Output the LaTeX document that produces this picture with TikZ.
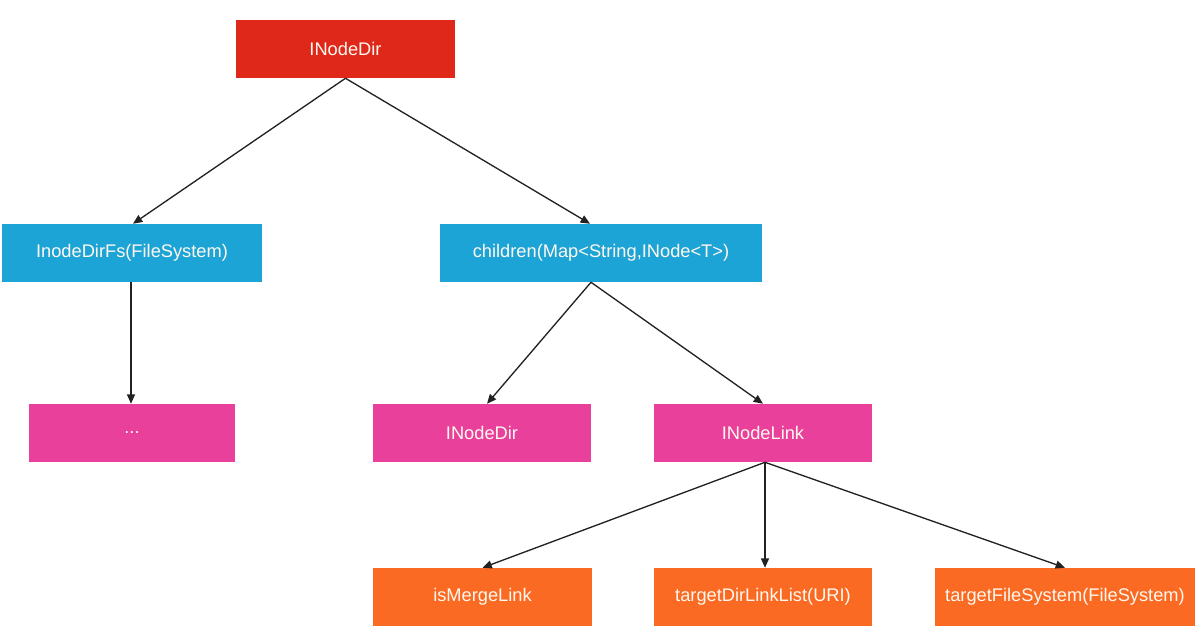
\documentclass[tikz,border=0pt]{standalone}
\usepackage{fontspec}
\setmainfont{Liberation Sans}
\usetikzlibrary{arrows.meta,calc}
\definecolor{cred}{HTML}{E0281A}
\definecolor{cblue}{HTML}{1DA4D6}
\definecolor{cpink}{HTML}{E9419B}
\definecolor{corange}{HTML}{FB6A22}
\definecolor{cline}{HTML}{222222}
\definecolor{ctext}{HTML}{FFF8F0}
\begin{document}
\begin{tikzpicture}[x=0.75pt,y=-0.75pt,
  box/.style={draw=none,minimum height=43.5pt,inner sep=0pt,text=ctext,font=\fontsize{13.7}{16}\selectfont},
  redbox/.style={box,fill=cred,minimum width=164.25pt},
  bluebox/.style={box,fill=cblue},
  pinkbox/.style={box,fill=cpink,minimum width=163.5pt},
  orangebox/.style={box,fill=corange,minimum width=164pt},
  conn/.style={draw=cline,line width=1pt,-{Triangle[length=7pt,width=6pt]}}]
\useasboundingbox (0,0) rectangle (1202,636);
\node[redbox] (top) at (345.5,49) {INodeDir};
\node[bluebox,minimum width=195pt] (fs) at (132,253) {InodeDirFs(FileSystem)};
\node[bluebox,minimum width=241.5pt] (ch) at (601,253) {children(Map<String,INode<T>)};
\node[pinkbox,minimum width=154.5pt] (dots) at (132,433) {...};
\node[pinkbox] (dir) at (482,433) {INodeDir};
\node[pinkbox] (link) at (763,433) {INodeLink};
\node[orangebox] (merge) at (482.5,597) {isMergeLink};
\node[orangebox] (tdl) at (763,597) {targetDirLinkList(URI)};
\node[orangebox,minimum width=195pt] (tfs) at (1065,597) {targetFileSystem(FileSystem)};
\coordinate (chs) at ($(ch.south)+(-10,0)$);
\coordinate (chn) at ($(ch.north)+(-11,0)$);
\coordinate (fsn) at ($(fs.north)+(1,0)$);
\coordinate (dirn) at ($(dir.north)+(5,0)$);
\coordinate (links) at ($(link.south)+(2,0)$);
\coordinate (tdln) at ($(tdl.north)+(2,0)$);
\coordinate (fss) at ($(fs.south)+(-1,0)$);
\coordinate (dotsn) at ($(dots.north)+(-1,0)$);
\draw[conn] (top.south) -- (fsn);
\draw[conn] (top.south) -- (chn);
\draw[conn] (fss) -- (dotsn);
\draw[conn] (chs) -- (dirn);
\draw[conn] (chs) -- (link.north);
\draw[conn] (links) -- (merge.north);
\draw[conn] (links) -- (tdln);
\draw[conn] (links) -- (tfs.north);
\end{tikzpicture}
\end{document}
